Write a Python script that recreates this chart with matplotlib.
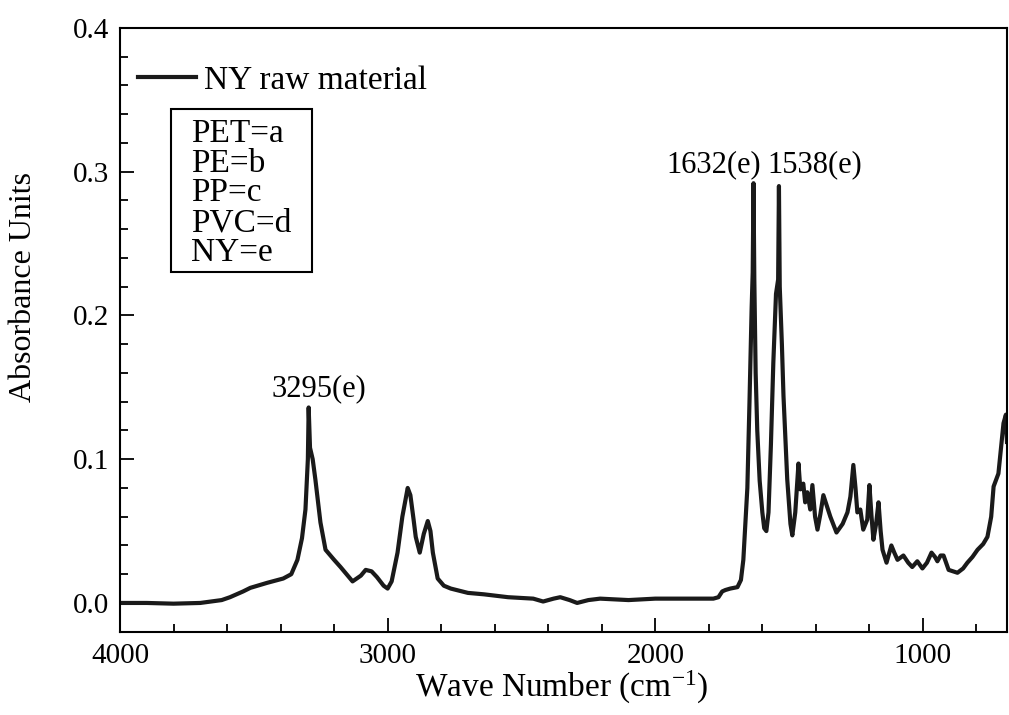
import matplotlib.pyplot as plt
from matplotlib.lines import Line2D
from matplotlib.patches import Rectangle
from matplotlib.ticker import MultipleLocator

plt.rcParams["font.family"] = ["Liberation Serif", "DejaVu Serif"]
plt.rcParams["mathtext.fontset"] = "custom"
plt.rcParams["mathtext.rm"] = "Liberation Serif"
plt.rcParams["mathtext.default"] = "regular"

# FTIR spectrum of the NY raw material
wavenumber = [
    4000, 3900, 3800, 3700, 3660, 3620, 3589, 3540, 3513, 3450, 3390, 3360,
    3337, 3320, 3307, 3298, 3295, 3290, 3280, 3270, 3251, 3232, 3200, 3176,
    3131, 3100, 3082, 3060, 3040, 3015, 3000, 2985, 2963, 2945, 2925, 2915,
    2903, 2895, 2880, 2865, 2850, 2840, 2831, 2813, 2790, 2764, 2700, 2640,
    2550, 2456, 2419, 2380, 2355, 2320, 2292, 2250, 2206, 2100, 2000, 1955,
    1850, 1783, 1764, 1750, 1738, 1720, 1693, 1680, 1671, 1662, 1656, 1648,
    1640, 1636, 1633, 1630, 1625, 1619, 1610, 1600, 1593, 1585, 1577, 1568,
    1559, 1549, 1541, 1538, 1535, 1527, 1521, 1507, 1495, 1488, 1477, 1465,
    1458, 1447, 1440, 1432, 1421, 1413, 1403, 1394, 1383, 1372, 1360, 1346,
    1323, 1300, 1282, 1271, 1260, 1252, 1245, 1234, 1223, 1208, 1200, 1192,
    1185, 1175, 1166, 1158, 1151, 1136, 1118, 1107, 1095, 1073, 1055, 1040,
    1021, 1002, 985, 968, 955, 946, 934, 923, 904, 871, 850, 834,
    815, 796, 775, 759, 745, 736, 718, 707, 699, 690, 686,
]
absorbance = [
    0.000, 0.000, -0.0005, 0.000, 0.001, 0.002, 0.004, 0.008, 0.0105, 0.014, 0.017, 0.020,
    0.030, 0.045, 0.065, 0.100, 0.136, 0.108, 0.100, 0.086, 0.056, 0.037, 0.030, 0.025,
    0.015, 0.019, 0.023, 0.022, 0.018, 0.012, 0.010, 0.015, 0.035, 0.060, 0.080, 0.075,
    0.058, 0.046, 0.035, 0.048, 0.057, 0.050, 0.035, 0.017, 0.012, 0.010, 0.007, 0.006,
    0.004, 0.003, 0.001, 0.003, 0.004, 0.002, 0.000, 0.002, 0.003, 0.002, 0.003, 0.003,
    0.003, 0.003, 0.004, 0.008, 0.009, 0.010, 0.011, 0.016, 0.030, 0.060, 0.080, 0.140,
    0.205, 0.230, 0.292, 0.225, 0.160, 0.120, 0.085, 0.063, 0.052, 0.050, 0.063, 0.110,
    0.167, 0.215, 0.225, 0.290, 0.220, 0.180, 0.144, 0.086, 0.055, 0.047, 0.063, 0.097,
    0.079, 0.083, 0.070, 0.077, 0.065, 0.082, 0.060, 0.051, 0.062, 0.075, 0.068, 0.060,
    0.049, 0.055, 0.063, 0.074, 0.096, 0.080, 0.063, 0.065, 0.051, 0.058, 0.082, 0.060,
    0.044, 0.055, 0.070, 0.050, 0.037, 0.028, 0.040, 0.035, 0.030, 0.033, 0.028, 0.025,
    0.029, 0.024, 0.028, 0.035, 0.032, 0.029, 0.033, 0.033, 0.023, 0.021, 0.024, 0.028,
    0.032, 0.037, 0.041, 0.046, 0.060, 0.081, 0.090, 0.110, 0.125, 0.131, 0.112,
]

# labelled bands: (text, x, y, alignment)
peak_labels = [
    ("3295(e)", 3256, 0.149, "center"),
    ("1632(e)", 1604, 0.305, "right"),
    ("1538(e)", 1582, 0.305, "left"),
]
key_lines = ["PET=a", "PE=b", "PP=c", "PVC=d", "NY=e"]

fig = plt.figure(figsize=(10.09, 7.15), dpi=100)
ax = fig.add_axes([0.1189, 0.1161, 0.8791, 0.8448])

ax.plot(wavenumber, absorbance, color="#1a1a1a", lw=3.0, solid_joinstyle="round")

ax.set_xlim(4000, 686)
ax.set_ylim(-0.0202, 0.4)
ax.xaxis.set_major_locator(MultipleLocator(1000))
ax.xaxis.set_minor_locator(MultipleLocator(200))
ax.yaxis.set_major_locator(MultipleLocator(0.1))
ax.yaxis.set_minor_locator(MultipleLocator(0.02))
ax.yaxis.set_major_formatter(plt.FuncFormatter(lambda v, p: f"{v:.1f}"))
ax.tick_params(which="both", direction="in", top=False, right=False,
               labelsize=21, width=1.3, pad=8)
ax.tick_params(which="major", length=10)
ax.tick_params(which="minor", length=6)
for s in ax.spines.values():
    s.set_linewidth(1.5)

for text, x, y, ha in peak_labels:
    ax.text(x, y, text, ha=ha, va="center", fontsize=22)

# legend entry
handle = Line2D([], [], color="#1a1a1a", lw=3.0)
ax.legend([handle], ["NY raw material"], loc="upper left",
          bbox_to_anchor=(0.02, 0.938), frameon=False, fontsize=24,
          handlelength=1.75, handletextpad=0.25, borderpad=0, borderaxespad=0)

# polymer key box
ax.add_patch(Rectangle((0.0575, 0.596), 0.159, 0.270, transform=ax.transAxes,
                       fill=False, lw=1.5, ec="black"))
ax.text(0.080, 0.850, "\n".join(key_lines), transform=ax.transAxes,
        ha="left", va="top", fontsize=24, linespacing=0.965)

fig.text(0.557, 0.038, r"Wave Number (cm$^{-1}$)", ha="center", va="center", fontsize=24)
fig.text(0.023, 0.598, "Absorbance Units", rotation=90, ha="center", va="center", fontsize=23)

fig.savefig("out.png", dpi=100)
